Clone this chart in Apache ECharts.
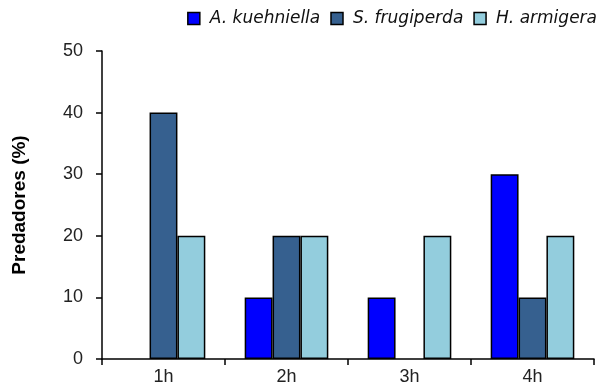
<!DOCTYPE html>
<html><head><meta charset="utf-8">
<script src="https://cdn.jsdelivr.net/npm/echarts@6/dist/echarts.min.js"></script>
<style>html,body{margin:0;padding:0;background:#fff}#c{width:599px;height:390px}</style>
</head><body><div id="c"></div>
<script>
const categories = ['1h', '2h', '3h', '4h'];
const seriesNames = ['A. kuehniella', 'S. frugiperda', 'H. armigera'];
const kuehniella = [0, 10, 10, 30];
const frugiperda = [40, 20, 0, 10];
const armigera = [20, 20, 20, 20];
const colors = ['#0000FF', '#36608F', '#93CDDD'];

const chart = echarts.init(document.getElementById('c'));
const mk = (name, data, color) => ({
  name, type: 'bar', data: data.map(v => v === 0 ? '-' : v),
  barGap: '0%', barCategoryGap: '32%',
  itemStyle: { color, borderColor: '#000', borderWidth: 1.5 },
  emphasis: { disabled: true }
});
chart.setOption({
  animation: false,
  textStyle: { fontFamily: 'Liberation Sans' },
  legend: {
    top: 5, right: -3, itemWidth: 12, itemHeight: 12, itemGap: 10,
    textStyle: { fontFamily: 'DejaVu Sans', fontStyle: 'italic', fontSize: 17, color: '#111', padding: [0, 0, 0, 5] },
    data: seriesNames.map(n => ({ name: n, icon: 'rect', itemStyle: { borderColor: '#000', borderWidth: 1.5 } }))
  },
  grid: { left: 102, right: 5, top: 51, bottom: 31, containLabel: false, outerBoundsMode: 'none' },
  xAxis: {
    type: 'category', data: categories,
    axisLine: { lineStyle: { color: '#000', width: 1.5 } },
    axisTick: { show: true, length: 6, inside: false, lineStyle: { color: '#000', width: 1.5 } },
    axisLabel: { color: '#222', fontSize: 18, margin: 9 }
  },
  yAxis: {
    type: 'value', min: 0, max: 50, interval: 10,
    name: 'Predadores (%)', nameLocation: 'middle', nameGap: 73,
    nameTextStyle: { fontWeight: 'bold', fontSize: 19, color: '#000' },
    splitLine: { show: false },
    axisLine: { show: true, lineStyle: { color: '#000', width: 1.5 } },
    axisTick: { show: true, length: 6, lineStyle: { color: '#000', width: 1.5 } },
    axisLabel: { color: '#222', fontSize: 18, margin: 19 }
  },
  series: [
    mk(seriesNames[0], kuehniella, colors[0]),
    mk(seriesNames[1], frugiperda, colors[1]),
    mk(seriesNames[2], armigera, colors[2])
  ]
});
</script></body></html>
